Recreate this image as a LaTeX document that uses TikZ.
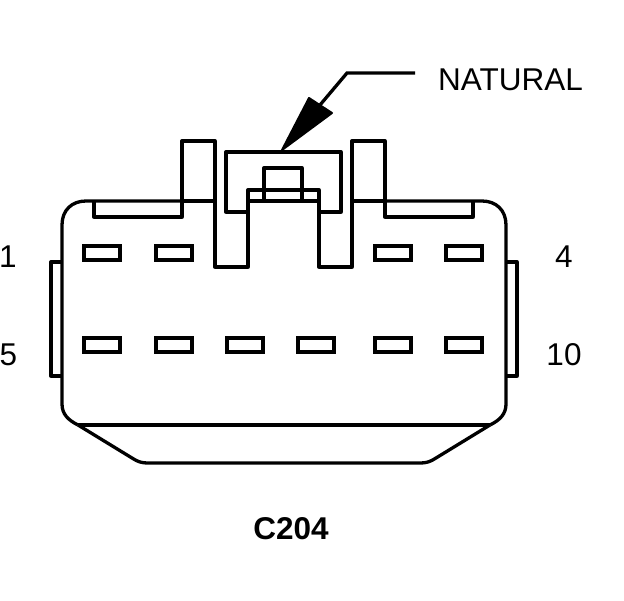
\documentclass[tikz,border=0pt]{standalone}
\usepackage{fontspec}
\setmainfont{Liberation Sans}
\tikzset{
    body/.style = {line width=3.3pt, line join=round},
    pin/.style = {draw, line width=3.7pt, minimum width=36pt, minimum height=13.5pt, inner sep=0pt},
    pinlabel/.style = {font=\fontsize{31.5}{32}\selectfont, inner sep=0pt}
}

\begin{document}
\begin{tikzpicture}[x=1pt, y=-1pt]
\useasboundingbox (0,0) rectangle (624,600);
% housing
\draw[body] (78,425) .. controls (68,420) and (62,414) .. (62,404) -- (62,225) .. controls (62,210) and (72,201) .. (86,201) -- (182,201);
\draw[body] (385,201) -- (482,201) .. controls (496,201) and (506,210) .. (506,225) -- (506,404) .. controls (506,414) and (500,420) .. (490,425);
\draw[body] (78,425) -- (490,425);
\draw[body] (78,425) -- (132,458) .. controls (138,462) and (142,463) .. (148,463) -- (420,463) .. controls (426,463) and (430,462) .. (436,458) -- (490,425);
% side ears
\draw[body] (62,262) -- (51,262) -- (51,376) -- (62,376);
\draw[body] (506,262) -- (517,262) -- (517,376) -- (506,376);
% top recesses and towers
\draw[body] (94,201) -- (94,217) -- (182,217) -- (182,141) -- (215,141) -- (215,267) -- (248,267) -- (248,190) -- (319,190) -- (319,267) -- (352,267) -- (352,141) -- (385,141) -- (385,217) -- (473,217) -- (473,201);
\draw[body] (182,201) -- (215,201);
\draw[body] (352,201) -- (385,201);
\draw[body] (248,201) -- (319,201);
% latch
\draw[body] (248,212) -- (226,212) -- (226,152) -- (341,152) -- (341,212) -- (319,212);
\draw[body] (264,201) -- (264,168) -- (302,168) -- (302,201);
% cavities
\foreach \n/\x in {1/102, 2/174, 3/393, 4/464}
    \node[pin] (pin\n) at (\x,253) {};
\foreach \n/\x in {5/102, 6/174, 7/245, 8/316, 9/393, 10/464}
    \node[pin] (pin\n) at (\x,345) {};
% labels
\node[pinlabel] (one) at (8,256.5) {1};
\node[pinlabel] (four) at (564,256.5) {4};
\node[pinlabel] (five) at (8.5,354.5) {5};
\node[pinlabel] (ten) at (564,354.5) {10};
\node[pinlabel, anchor=west] (natural) at (438,80) {NATURAL};
\node[pinlabel, font=\fontsize{31.5}{32}\selectfont\bfseries] (conn) at (291,529) {C204};
% leader
\coordinate (lstart) at (415,73);
\coordinate (lbend) at (347,73);
\coordinate (lfoot) at (320,105);
\coordinate (ltip) at (282,150);
\draw[line width=3.3pt] (lstart) -- (lbend) -- (lfoot);
\fill[line join=round, draw, line width=2pt] (ltip) -- (309,98) -- (332,113) -- cycle;
\end{tikzpicture}
\end{document}
